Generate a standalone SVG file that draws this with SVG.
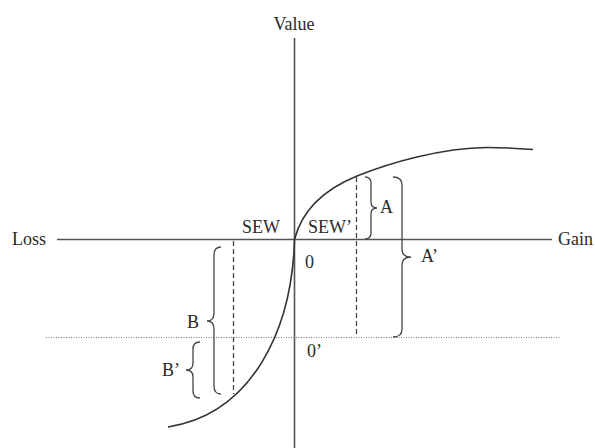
<svg xmlns="http://www.w3.org/2000/svg" width="595" height="448" viewBox="0 0 595 448">
<style>
text{font-family:"Liberation Serif","Times New Roman",serif;font-size:18px;fill:#2a2a2a}
.axis{stroke:#555;stroke-width:1.6;fill:none}
.curve{stroke:#333;stroke-width:1.6;fill:none}
.dash{stroke:#444;stroke-width:1.3;stroke-dasharray:5 3;fill:none}
.dot{stroke:#777;stroke-width:1.2;stroke-dasharray:1 1.5;fill:none}
.brace{stroke:#444;stroke-width:1.3;fill:none}
</style>
<rect width="595" height="448" fill="#fff"/>
<g id="axes">
<line class="axis" x1="294.5" y1="38" x2="294.5" y2="448"/>
<line class="axis" x1="57" y1="239.5" x2="552" y2="239.5"/>
<line class="dot" x1="46" y1="337.5" x2="560" y2="337.5"/>
</g>
<g id="labels">
<text x="294" y="30" text-anchor="middle">Value</text>
<text x="12" y="245">Loss</text>
<text x="558" y="245">Gain</text>
<text x="242" y="233">SEW</text>
<text x="308" y="233">SEW’</text>
<text x="305" y="268">0</text>
<text x="307" y="357">0’</text>
</g>
<g id="curve">
<path class="curve" d="M168 427 C252 414 292 330 294.5 239.5 C301 214 320 191 357 176 C390 163 440 148 487 147.5 C505 147.5 520 148.5 533 149.5"/>
</g>
<g id="guides">
<line class="dash" x1="233.5" y1="241" x2="233.5" y2="394"/>
<line class="dash" x1="356.5" y1="177" x2="356.5" y2="337"/>
</g>
<g id="brace-A">
<path class="brace" d="M365 177 Q371 177 371 183 L371 202 Q371 208 377 208 Q371 208 371 214 L371 233 Q371 239 365 239"/>
<text x="380" y="213">A</text>
</g>
<g id="brace-A2">
<path class="brace" d="M393 177 Q402 177 402 185 L402 249 Q402 257 411 257 Q402 257 402 265 L402 329 Q402 337 393 337"/>
<text x="421" y="262">A’</text>
</g>
<g id="brace-B">
<path class="brace" d="M221 247 Q214 247 214 255 L214 313 Q214 321 207 321 Q214 321 214 329 L214 386 Q214 394 221 394"/>
<text x="187" y="328">B</text>
</g>
<g id="brace-B2">
<path class="brace" d="M200 342 Q193 342 193 349 L193 363 Q193 370 186 370 Q193 370 193 377 L193 391 Q193 398 200 398"/>
<text x="162" y="376">B’</text>
</g>
</svg>
